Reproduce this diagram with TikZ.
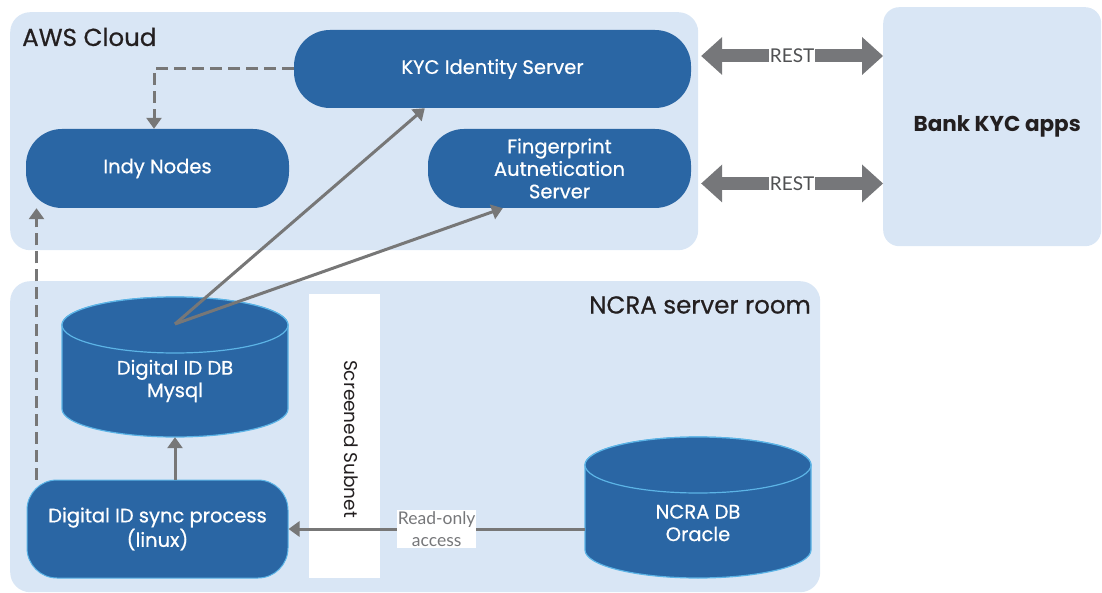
\documentclass[tikz,border=0pt]{standalone}
\usepackage{fontspec}
\setmainfont{Poppins}
\newfontfamily\medfont[FakeBold=0.6]{Poppins}
\newfontfamily\lightfont{Lato}
\usetikzlibrary{arrows.meta,calc}
\definecolor{panel}{HTML}{D9E6F5}
\definecolor{nodeblue}{HTML}{2A66A4}
\definecolor{edgeblue}{HTML}{5CB4E6}
\definecolor{arrowgray}{HTML}{777777}
\definecolor{restgray}{HTML}{76777A}
\definecolor{resttext}{HTML}{505153}
\definecolor{titlecol}{HTML}{231F20}
\tikzset{
  panelbox/.style={fill=panel, draw=none, rounded corners=20pt, inner sep=0pt},
  bluebox/.style={fill=nodeblue, draw=none, rounded corners=36pt, text=white, align=center,
    inner sep=0pt, font=\medfont\fontsize{19.5}{22.5}\selectfont},
  dbtext/.style={text=white, align=center, inner sep=0pt, font=\medfont\fontsize{19.5}{22.5}\selectfont},
  cylbody/.style={fill=nodeblue, draw=edgeblue, line width=1.2pt},
  titletext/.style={text=titlecol, inner sep=0pt, font=\medfont\fontsize{24.5}{28}\selectfont},
  conn/.style={draw=arrowgray, line width=3pt, -{Triangle[width=15pt,length=11pt]}},
  dconn/.style={conn, dash pattern=on 12pt off 6pt},
  restarrow/.style={draw=restgray, line width=13pt,
    {Triangle[width=38pt,length=21pt,line width=0pt]}-{Triangle[width=38pt,length=21pt,line width=0pt]}},
  restlabel/.style={fill=white, text=resttext, inner sep=1pt, font=\lightfont\fontsize{19}{19}\selectfont},
  graylabel/.style={fill=white, text=restgray, inner sep=1pt, align=center, font=\lightfont\fontsize{17.5}{22}\selectfont},
}
\begin{document}
\begin{tikzpicture}[x=1pt,y=-1pt]
\useasboundingbox (0,0) rectangle (1102,593);

% panels
\node[panelbox, minimum width=688pt, minimum height=238pt, anchor=north west] (aws) at (10,12) {};
\node[panelbox, rounded corners=16pt, minimum width=218pt, minimum height=239pt, anchor=north west,
      text=titlecol, font=\bfseries\fontsize{21.5}{24}\selectfont] (bank) at (883,7) {\hspace*{10pt}Bank KYC apps};
\node[panelbox, minimum width=810pt, minimum height=311pt, anchor=north west] (ncra) at (10,281) {};

\node[titletext, anchor=west] (awsl) at (22,37) {AWS Cloud};
\node[titletext, anchor=east] (ncral) at (811,305) {NCRA server room};

% screened subnet
\node[fill=white, minimum width=71pt, minimum height=284pt, inner sep=0pt, anchor=north west] (subnet) at (309,294) {};
\node[rotate=-90, text=titlecol, inner sep=0pt, font=\fontsize{18.5}{20}\selectfont] (subnetl) at (351,439) {Screened Subnet};

% AWS nodes
\node[bluebox, minimum width=397pt, minimum height=78pt] (kyc) at (492.5,69) {KYC Identity Server};
\node[bluebox, minimum width=263pt, minimum height=79pt] (indy) at (157.5,168.5) {Indy Nodes};
\node[bluebox, minimum width=263pt, minimum height=79pt] (fp) at (559.5,168.5) {Fingerprint\\Autnetication\\Server};

% sync process
\node[bluebox, draw=edgeblue, line width=1pt, rounded corners=30pt, minimum width=261pt, minimum height=98pt] (sync) at (157.5,529) {Digital ID sync process\\(linux)};

% Digital ID DB cylinder
\node[inner sep=0pt, minimum width=226pt, minimum height=140pt] (db) at (175,367) {};
\path[cylbody] (62,325) -- (62,409) arc[start angle=180, end angle=0, x radius=113, y radius=28]
  -- (288,325) arc[start angle=0, end angle=-180, x radius=113, y radius=28] -- cycle;
\path[cylbody] (175,325) ellipse [x radius=113, y radius=28];
\node[dbtext] (dbl) at (175,381) {Digital ID DB\\Mysql};
\coordinate (dbtop) at (175,324);

% NCRA DB cylinder
\node[inner sep=0pt, minimum width=226pt, minimum height=141pt] (ncradb) at (698,507.5) {};
\path[cylbody] (585,465) -- (585,550) arc[start angle=180, end angle=0, x radius=113, y radius=28]
  -- (811,465) arc[start angle=0, end angle=-180, x radius=113, y radius=28] -- cycle;
\path[cylbody] (698,465) ellipse [x radius=113, y radius=28];
\node[dbtext] (ncradbl) at (698,523) {NCRA DB\\Oracle};

% connectors
\draw[dconn] (kyc.west) -| ([xshift=-3.5pt]indy.north);
\draw[dconn] ([xshift=10pt]sync.north west) -- ([xshift=10pt]sync.north west |- indy.south);
\draw[conn] (dbtop) -- ([xshift=131pt]kyc.south west);
\draw[conn] (dbtop) -- ([xshift=75pt]fp.south west);
\draw[conn] (db.south |- sync.north) -- (db.south);
\draw[conn] (ncradb.west |- sync.east) -- node[graylabel, pos=0.5] (ro) {Read-only\\access} (sync.east);

% REST arrows
\draw[restarrow] ([xshift=10pt,yshift=13pt]kyc.east) -- node[restlabel] (rest1) {REST} ([yshift=13pt]bank.west |- kyc.east);
\draw[restarrow] ([xshift=10pt,yshift=-15pt]fp.east) -- node[restlabel] (rest2) {REST} ([yshift=-15pt]bank.west |- fp.east);
\end{tikzpicture}
\end{document}
